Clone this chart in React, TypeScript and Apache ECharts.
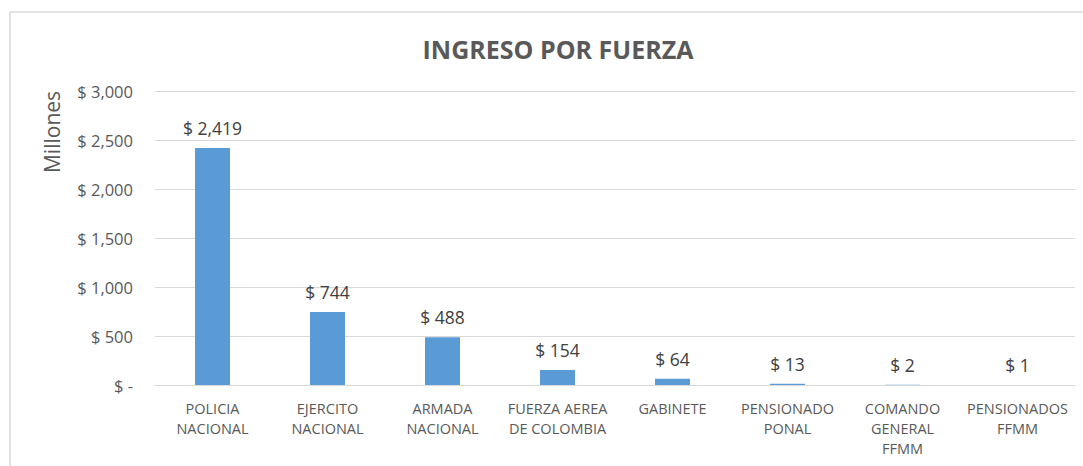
import React, { useEffect, useRef } from "react";
import * as echarts from "echarts";

const categories = [
  "POLICIA\nNACIONAL",
  "EJERCITO\nNACIONAL",
  "ARMADA\nNACIONAL",
  "FUERZA AEREA\nDE COLOMBIA",
  "GABINETE",
  "PENSIONADO\nPONAL",
  "COMANDO\nGENERAL\nFFMM",
  "PENSIONADOS\nFFMM",
];
const values = [2419, 744, 488, 154, 64, 13, 2, 1];
const title = "INGRESO POR FUERZA";
const yAxisTitle = "Millones";

const FONT = "'Open Sans', 'Liberation Sans', sans-serif";

function fmt(v: number): string {
  if (v === 0) return "$ -";
  return "$ " + v.toLocaleString("en-US");
}

export default function App() {
  const ref = useRef<HTMLDivElement>(null);
  useEffect(() => {
    if (!ref.current) return;
    const chart = echarts.init(ref.current, null, { renderer: "svg" });
    chart.setOption({
      animation: false,
      backgroundColor: "#ffffff",
      title: {
        text: title,
        left: 553,
        top: 31,
        textAlign: "center",
        textStyle: { fontFamily: FONT, fontSize: 25, fontWeight: "bold", color: "#595959" },
      },
      grid: { left: 155, right: 8, top: 91, bottom: 81, containLabel: false },
      xAxis: {
        type: "category",
        data: categories,
        axisLine: { show: true, lineStyle: { color: "#D9D9D9" } },
        axisTick: { show: false },
        axisLabel: {
          interval: 0,
          color: "#595959",
          fontFamily: FONT,
          fontSize: 14.5,
          lineHeight: 20,
          margin: 13,
        },
      },
      yAxis: {
        type: "value",
        min: 0,
        max: 3000,
        interval: 500,
        axisLine: { show: false },
        axisTick: { show: false },
        splitLine: { lineStyle: { color: "#D9D9D9" } },
        axisLabel: {
          color: "#595959",
          fontFamily: FONT,
          fontSize: 16.5,
          margin: 22,
          formatter: (v: number) => fmt(v),
        },
      },
      graphic: [
        {
          type: "rect",
          shape: { x: 10, y: 12, width: 1200, height: 600 },
          style: { fill: "none", stroke: "#D9D9D9", lineWidth: 1.5 },
          silent: true,
        },
        {
          type: "text",
          x: 52,
          y: 132,
          rotation: Math.PI / 2,
          style: {
            text: yAxisTitle,
            fill: "#595959",
            font: `21px ${FONT}`,
            textAlign: "center",
            textVerticalAlign: "middle",
          },
        },
      ],
      series: [
        {
          type: "bar",
          data: values,
          barWidth: 35,
          itemStyle: { color: "#5B9BD5" },
          label: {
            show: true,
            position: "top",
            distance: 11,
            color: "#404040",
            fontFamily: FONT,
            fontSize: 17.5,
            formatter: (p: any) => fmt(p.value),
          },
        },
      ],
    });
    return () => chart.dispose();
  }, []);
  return (
    <div
      ref={ref}
      style={{ position: "fixed", left: 0, top: 0, width: 1083, height: 466 }}
    />
  );
}
